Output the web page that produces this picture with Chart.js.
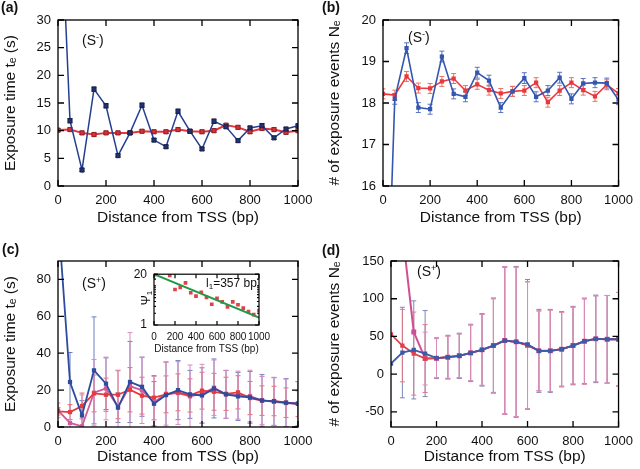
<!DOCTYPE html>
<html>
<head>
<meta charset="utf-8">
<script src="https://cdn.jsdelivr.net/npm/chart.js@4.4.1/dist/chart.umd.min.js"></script>
<style>
  body { margin: 0; background: #fff; width: 640px; height: 469px; position: relative; overflow: hidden;
         font-family: "Liberation Sans", Arial, sans-serif; }
  canvas { position: absolute; }
  .lbl { position: absolute; line-height: 1; white-space: nowrap; color: #111; }
  .panel { font-weight: bold; font-size: 14px; }
  .s { font-size: 14px; }
  .s sup { font-size: 9px; vertical-align: 5px; line-height: 0; }
  .small { font-size: 12px; }
  .small sub { font-size: 8px; vertical-align: -2px; line-height: 0; }
  .psi { font-size: 12px; transform: rotate(-90deg); transform-origin: center; }
  .psi sub { font-size: 8px; vertical-align: -2px; line-height: 0; }
</style>
</head>
<body>
<canvas id="ca" width="320" height="230" style="left:0;top:0"></canvas>
<canvas id="cb" width="320" height="230" style="left:320px;top:0"></canvas>
<canvas id="cc" width="320" height="239" style="left:0;top:230px"></canvas>
<canvas id="cd" width="320" height="239" style="left:320px;top:230px"></canvas>
<canvas id="ci" width="150" height="100" style="left:128px;top:260px"></canvas>

<div class="lbl panel" style="left:1px;top:0">(a)</div>
<div class="lbl panel" style="left:322px;top:0">(b)</div>
<div class="lbl panel" style="left:2px;top:242px">(c)</div>
<div class="lbl panel" style="left:322px;top:243px">(d)</div>
<div class="lbl s" style="left:82px;top:33px">(S<sup>-</sup>)</div>
<div class="lbl s" style="left:408px;top:30px">(S<sup>-</sup>)</div>
<div class="lbl s" style="left:82px;top:276px">(S<sup>+</sup>)</div>
<div class="lbl s" style="left:417px;top:264px">(S<sup>+</sup>)</div>
<div class="lbl small" style="left:206px;top:277px">l<sub>1</sub>=357 bp</div>
<div class="lbl psi" style="left:139px;top:292px">Ψ<sub>1</sub></div>

<script>
// distance from TSS (bp), shared by all four panels
const distance = [0, 50, 100, 150, 200, 250, 300, 350, 400, 450, 500, 550, 600, 650, 700, 750, 800, 850, 900, 950, 1000];

// (a) exposure time, S-
const aBlue = [62, 11.8, 2.9, 17.5, 14.5, 5.5, 9.6, 14.6, 8.3, 7.1, 13.5, 9.9, 6.7, 11.7, 10.7, 8.2, 10.5, 10.9, 8.7, 10.3, 10.9];
const aRed = [10.1, 10.2, 9.6, 9.3, 9.6, 9.6, 9.6, 9.9, 9.8, 9.8, 10.2, 9.9, 9.8, 10.0, 11.0, 10.6, 9.8, 10.4, 10.2, 9.7, 10.0];
const aBlueErr = [0.4, 0.4, 0.3, 0.4, 0.4, 0.3, 0.3, 0.4, 0.3, 0.3, 0.4, 0.3, 0.3, 0.4, 0.3, 0.3, 0.3, 0.4, 0.3, 0.3, 0.3];
const aRedErr = [0.3, 0.3, 0.3, 0.3, 0.3, 0.3, 0.3, 0.3, 0.3, 0.3, 0.3, 0.3, 0.3, 0.3, 0.3, 0.3, 0.3, 0.3, 0.3, 0.3, 0.3];

// (b) number of exposure events, S-
const bBlue = [9.7, 18.1, 19.32, 17.89, 17.85, 19.12, 18.22, 18.15, 18.73, 18.54, 17.89, 18.28, 18.6, 18.15, 18.3, 18.61, 18.1, 18.47, 18.49, 18.48, 18.08];
const bRed = [18.22, 18.19, 18.64, 18.36, 18.35, 18.52, 18.59, 18.3, 18.45, 18.31, 18.23, 18.28, 18.3, 18.49, 18.02, 18.3, 18.49, 18.31, 18.16, 18.44, 18.23];
const bBlueErr = [0.15, 0.13, 0.13, 0.12, 0.12, 0.13, 0.12, 0.12, 0.13, 0.13, 0.12, 0.12, 0.13, 0.12, 0.12, 0.13, 0.12, 0.12, 0.12, 0.12, 0.12];
const bRedErr = [0.12, 0.12, 0.12, 0.12, 0.12, 0.12, 0.12, 0.12, 0.12, 0.12, 0.12, 0.12, 0.12, 0.12, 0.12, 0.12, 0.12, 0.12, 0.12, 0.12, 0.12];

// (c) exposure time, S+
const cBlue = [115, 24.4, 6.3, 30.7, 23.5, 10.5, 24.4, 21.8, 12.6, 17.3, 20.0, 17.7, 17.1, 20.9, 17.7, 16.6, 16.1, 14.4, 13.9, 13.2, 12.6];
const cRed = [8.5, 8.1, 11.4, 18.2, 17.5, 17.5, 20.2, 17.0, 15.9, 17.7, 18.8, 17.1, 19.7, 19.1, 18.0, 18.8, 15.7, 14.3, 14.1, 13.2, 12.6];
const cPink = [9.0, 2.2, 0.4, 18.6, 20.9, 10.8, 22.2, 19.9, 13.4, 18.0, 18.4, 16.6, 18.0, 21.3, 17.7, 17.3, 16.8, 14.4, 13.7, 13.0, 12.6];
const cBlueErr = [0, 16, 8, 29, 14, 8, 22, 16, 12, 18, 16, 13, 15, 16, 13, 13, 14, 14, 13, 13, 12];
const cRedErr = [2, 4, 7, 10, 9, 13, 12, 10, 12, 10, 10, 9, 10, 10, 9, 9, 9, 8, 8, 8, 7];
const cPinkErr = [4, 6, 17, 18, 17, 20, 29, 18, 14, 17, 17, 17, 16, 15, 13, 13, 14, 13, 13, 13, 12];

// (d) number of exposure events, S+
const dBlue = [14.1, 28.7, 32.2, 27.3, 21.2, 22.5, 24.3, 28.2, 32.2, 37.9, 44.6, 42.8, 39.5, 30.9, 30.9, 33.1, 37.9, 43.7, 46.8, 46.3, 46.3];
const dRed = [52.9, 37.9, 27.3, 20.7, 21.2, 22.5, 24.3, 28.2, 32.2, 37.9, 44.6, 42.8, 38.4, 30.9, 30.9, 33.1, 37.9, 43.7, 46.8, 46.3, 46.3];
const dPink = [300, 189, 56, 20.7, 21.2, 22.5, 24.3, 28.2, 32.2, 37.9, 44.6, 42.8, 38.4, 30.9, 30.9, 33.1, 37.9, 43.7, 46.8, 46.3, 46.3];
const dBlueErr = [0, 60, 65, 57, 27, 29, 30, 38, 48, 62, 97, 100, 86, 55, 55, 50, 52, 56, 58, 58, 62];
const dRedErr = [0, 48, 55, 45, 26, 28, 29, 37, 47, 63, 98, 99, 84, 53, 54, 49, 51, 57, 57, 58, 62];
const dPinkErr = [0, 0, 0, 35, 26, 28, 29, 37, 47, 63, 98, 99, 84, 53, 54, 49, 51, 57, 57, 58, 62];

// inset of (c): Psi_1 on log scale with exponential fit
const insetX = [0, 150, 200, 250, 300, 350, 400, 450, 500, 550, 600, 650, 700, 750, 800, 850, 900, 950, 1000];
const insetPsi = [19.5, 18.7, 8.1, 9.2, 12, 6.7, 5.5, 6.9, 5.1, 3.4, 4.8, 3.9, 2.9, 3.9, 3.3, 2.7, 2.2, 1.85, 2.35];
const fitX = [0, 1000];
const fitPsi = [20, 1.55];

const xTicks = [0, 200, 400, 600, 800, 1000];

Chart.defaults.font.family = '"Liberation Sans", Arial, sans-serif';
Chart.defaults.color = '#111';

const pts = (xs, ys) => xs.map((x, i) => ({ x, y: ys[i] }));

// error bars, drawn under the lines
const errorBars = {
  id: 'errorBars',
  beforeDatasetsDraw(chart) {
    const { ctx, chartArea: a, scales: { x, y } } = chart;
    ctx.save();
    ctx.beginPath();
    ctx.rect(a.left, a.top, a.width, a.height);
    ctx.clip();
    chart.data.datasets.forEach(ds => {
      if (!ds.errors) return;
      ctx.strokeStyle = ds.errorColor;
      ctx.lineWidth = 1;
      ds.data.forEach((p, i) => {
        const e = ds.errors[i];
        if (!e) return;
        const px = x.getPixelForValue(p.x);
        const y1 = y.getPixelForValue(p.y - e);
        const y2 = y.getPixelForValue(p.y + e);
        ctx.beginPath();
        ctx.moveTo(px, y1); ctx.lineTo(px, y2);
        ctx.moveTo(px - 2.5, y1); ctx.lineTo(px + 2.5, y1);
        ctx.moveTo(px - 2.5, y2); ctx.lineTo(px + 2.5, y2);
        ctx.stroke();
      });
    });
    ctx.restore();
  }
};

// gnuplot-like box with inward ticks
const frame = {
  id: 'frame',
  afterDraw(chart, args, opts) {
    const { ctx, chartArea: a, scales: { x, y } } = chart;
    const len = opts.tick || 6;
    ctx.save();
    ctx.strokeStyle = '#000';
    ctx.lineWidth = opts.width || 1.3;
    ctx.beginPath();
    x.ticks.forEach(t => {
      const px = x.getPixelForValue(t.value);
      ctx.moveTo(px, a.bottom); ctx.lineTo(px, a.bottom - len);
      ctx.moveTo(px, a.top); ctx.lineTo(px, a.top + len);
    });
    y.ticks.forEach(t => {
      const py = y.getPixelForValue(t.value);
      const l = (y.type === 'logarithmic' && !t.label) ? len / 2 : len;
      ctx.moveTo(a.left, py); ctx.lineTo(a.left + l, py);
      ctx.moveTo(a.right, py); ctx.lineTo(a.right - l, py);
    });
    ctx.stroke();
    ctx.strokeRect(a.left, a.top, a.right - a.left, a.bottom - a.top);
    ctx.restore();
  }
};

function series(ys, color, opts) {
  return Object.assign({
    data: pts(distance, ys),
    borderColor: color,
    backgroundColor: color,
    borderWidth: 1.8,
    pointStyle: 'rect',
    pointRadius: 3,
    pointBorderWidth: 0.8,
    tension: 0
  }, opts);
}

function panel(id, o) {
  return new Chart(document.getElementById(id), {
    type: 'line',
    data: { datasets: o.datasets },
    options: {
      responsive: false,
      animation: false,
      layout: { padding: o.pad },
      plugins: { legend: { display: false }, tooltip: { enabled: false }, frame: { tick: 6 } },
      scales: {
        x: {
          type: 'linear', min: 0, max: 1000,
          afterBuildTicks: s => { s.ticks = xTicks.map(v => ({ value: v })); },
          grid: { display: false, drawTicks: false }, border: { display: false },
          ticks: { padding: 7, maxRotation: 0, autoSkip: false, font: { size: 13 }, callback: v => String(v) },
          title: { display: true, text: 'Distance from TSS (bp)', font: { size: 15.5, lineHeight: 1.2 }, padding: { top: 0, bottom: o.xtPad } },
          afterFit: s => { s.height = o.xh; }
        },
        y: {
          type: 'linear', min: o.yMin, max: o.yMax,
          grid: { display: false, drawTicks: false }, border: { display: false },
          ticks: { stepSize: o.yStep, includeBounds: false, padding: 7, font: { size: 13 }, callback: v => String(v) },
          title: { display: true, text: o.yTitle, font: { size: 15.5, lineHeight: 1.2 }, padding: { top: o.ytPad, bottom: 0 } },
          afterFit: s => { s.width = o.yw; }
        }
      }
    },
    plugins: [errorBars, frame]
  });
}

// (a)
panel('ca', {
  pad: { left: 0, top: 20, right: 22, bottom: 0 }, yw: 58, xh: 44, xtPad: 3, ytPad: 1,
  yMin: 0, yMax: 30, yStep: 5, yTitle: 'Exposure time tₑ (s)',
  datasets: [
    series(aBlue, '#253f8f', { borderWidth: 1.5, backgroundColor: '#22336f', pointBorderColor: '#101a40', errors: aBlueErr, errorColor: '#2a3a70' }),
    series(aRed, '#e3363c', { borderWidth: 2, backgroundColor: '#d83038', pointBorderColor: '#7a1a20', errors: aRedErr, errorColor: '#a02a2a' })
  ]
});

// (b)
panel('cb', {
  pad: { left: 0, top: 20, right: 17, bottom: 0 }, yw: 63, xh: 44, xtPad: 3, ytPad: 5,
  yMin: 16, yMax: 20, yStep: 1, yTitle: '# of exposure events Nₑ',
  datasets: [
    series(bBlue, '#3556b0', { borderWidth: 1.6, pointBorderWidth: 0, errors: bBlueErr, errorColor: '#5a74c0' }),
    series(bRed, '#e8383e', { borderWidth: 1.6, pointBorderWidth: 0, errors: bRedErr, errorColor: '#ee7060' })
  ]
});

// (c)
panel('cc', {
  pad: { left: 0, top: 31, right: 22, bottom: 0 }, yw: 58, xh: 42, xtPad: 3, ytPad: 1,
  yMin: 0, yMax: 90, yStep: 20, yTitle: 'Exposure time tₑ (s)',
  datasets: [
    series(cBlue, '#2e4c9f', { pointBorderWidth: 0, errors: cBlueErr, errorColor: '#6a7fc0' }),
    series(cRed, '#e63a3f', { pointBorderWidth: 0, errors: cRedErr, errorColor: '#ea6a6a' }),
    series(cPink, '#d05a9a', { pointBorderWidth: 0, errors: cPinkErr, errorColor: '#d98cbf' })
  ]
});

// (d)
panel('cd', {
  pad: { left: 0, top: 31, right: 17, bottom: 0 }, yw: 71, xh: 42, xtPad: 3, ytPad: 5,
  yMin: -70, yMax: 150, yStep: 50, yTitle: '# of exposure events Nₑ',
  datasets: [
    series(dBlue, '#3b5aa8', { pointBorderWidth: 0, errors: dBlueErr, errorColor: '#7a88b8' }),
    series(dRed, '#e0404a', { pointBorderWidth: 0, errors: dRedErr, errorColor: '#e07a88' }),
    series(dPink, '#cf4f95', { borderWidth: 2, pointRadius: 3.5, pointBorderWidth: 0, errors: dPinkErr, errorColor: '#d98cbf' })
  ]
});

// inset
new Chart(document.getElementById('ci'), {
  type: 'line',
  data: {
    datasets: [
      { data: pts(fitX, fitPsi), borderColor: '#1f9a45', borderWidth: 2, pointRadius: 0, tension: 0 },
      { data: pts(insetX, insetPsi), showLine: false, pointStyle: 'rect', pointRadius: 2.6,
        backgroundColor: '#e0404a', borderColor: '#e0404a', pointBorderWidth: 0 }
    ]
  },
  options: {
    responsive: false,
    animation: false,
    layout: { padding: { left: 0, top: 8, right: 19, bottom: 0 } },
    plugins: { legend: { display: false }, tooltip: { enabled: false }, frame: { tick: 4, width: 1.2 } },
    scales: {
      x: {
        type: 'linear', min: 0, max: 1000,
        afterBuildTicks: s => { s.ticks = xTicks.map(v => ({ value: v })); },
        grid: { display: false, drawTicks: false }, border: { display: false },
        ticks: { padding: 6, maxRotation: 0, autoSkip: false, font: { size: 10 }, callback: v => String(v) },
        title: { display: true, text: 'Distance from TSS (bp)', font: { size: 10, lineHeight: 1.2 }, padding: { top: 0, bottom: 5 } },
        afterFit: s => { s.height = 35; }
      },
      y: {
        type: 'logarithmic', min: 1, max: 20,
        grid: { display: false, drawTicks: false }, border: { display: false },
        ticks: { autoSkip: false, padding: 7, font: { size: 12 },
                 callback: v => (v === 1 || v === 20) ? String(v) : '' },
        afterFit: s => { s.width = 26; }
      }
    }
  },
  plugins: [frame]
});
</script>
</body>
</html>
